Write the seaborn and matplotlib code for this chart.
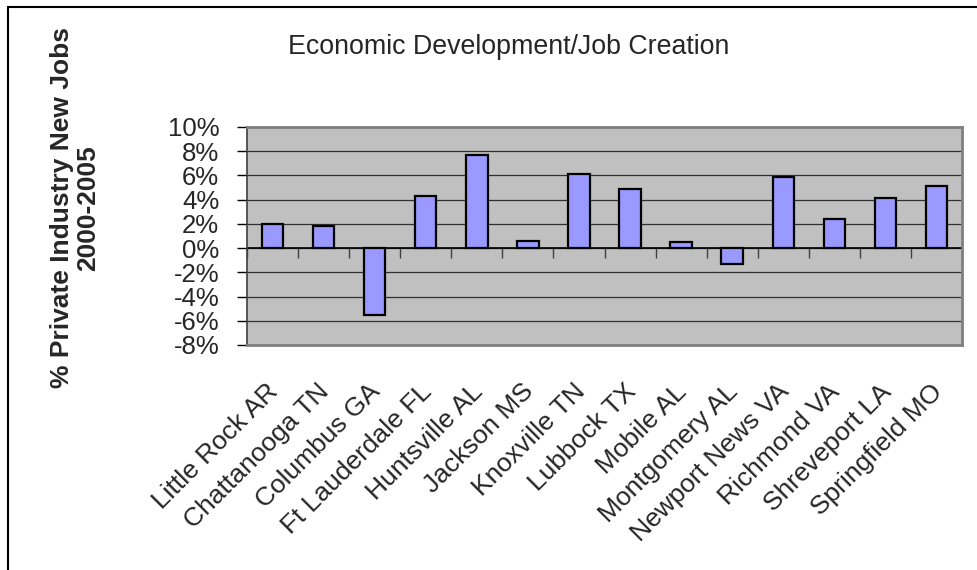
import matplotlib
matplotlib.use("Agg")
import matplotlib.pyplot as plt
import matplotlib.transforms as mtransforms
from matplotlib.patches import Rectangle
from matplotlib.ticker import FixedLocator
import seaborn as sns
import pandas as pd

cities = ["Little Rock AR", "Chattanooga TN", "Columbus GA", "Ft Lauderdale FL",
          "Huntsville AL", "Jackson MS", "Knoxville TN", "Lubbock TX", "Mobile AL",
          "Montgomery AL", "Newport News VA", "Richmond VA", "Shreveport LA",
          "Springfield MO"]
new_jobs_pct = [2.0, 1.8, -5.5, 4.3, 7.7, 0.6, 6.1, 4.9, 0.5, -1.3, 5.9, 2.4, 4.1, 5.1]
y_ticks = [-8, -6, -4, -2, 0, 2, 4, 6, 8, 10]
y_tick_labels = [f"{v}%" for v in y_ticks]
title = "Economic Development/Job Creation"
y_label = "% Private Industry New Jobs\n2000-2005"

sns.set_theme(style="white")
plt.rcParams["font.family"] = ["Liberation Sans", "DejaVu Sans"]

df = pd.DataFrame({"city": cities, "pct": new_jobs_pct})

W, H = 977, 570
fig = plt.figure(figsize=(W / 100, H / 100), dpi=100)
fig.patch.set_facecolor("white")
ax = fig.add_axes([247 / W, 1 - 345 / H, (962 - 247) / W, (345 - 127) / H])
ax.set_facecolor("#C0C0C0")

sns.barplot(data=df, x="city", y="pct", color="#9999FF", saturation=1,
            edgecolor="black", linewidth=1.6, width=0.42, ax=ax, zorder=3)

ax.set_xlim(-0.5, len(cities) - 0.5)
ax.set_ylim(-8, 10)
ax.set_yticks(y_ticks)
ax.set_yticklabels(y_tick_labels)
ax.yaxis.grid(True, color="#303030", linewidth=0.9, zorder=1)
ax.set_axisbelow(True)
ax.axhline(0, color="black", linewidth=1.2, zorder=2)

ax.tick_params(axis="y", direction="out", length=7, width=1, color="black",
               pad=13, left=True, labelsize=18.5)
ax.tick_params(axis="x", length=0, pad=10, labelsize=19)
ax.set_xticks(range(len(cities)))
ax.set_xticklabels(cities, rotation=45, ha="right", va="center",
                   rotation_mode="anchor")
offset = mtransforms.ScaledTranslation(2 / 100, -29 / 100, fig.dpi_scale_trans)
for lab in ax.get_xticklabels():
    lab.set_transform(lab.get_transform() + offset)

ax.set_xlabel("")
ax.set_ylabel("")

for side in ["top", "right", "bottom"]:
    ax.spines[side].set_color("#808080")
    ax.spines[side].set_linewidth(2)
ax.spines["left"].set_color("#404040")
ax.spines["left"].set_linewidth(1.2)

# category boundary ticks on the zero line
sec = ax.secondary_xaxis(8 / 18)
sec.xaxis.set_major_locator(FixedLocator([i - 0.5 for i in range(len(cities) + 1)]))
sec.set_xticklabels([])
sec.tick_params(axis="x", direction="out", length=7, width=1, color="#404040")
sec.spines["bottom"].set_visible(False)

fig.text(509 / W, 1 - 47 / H, title, ha="center", va="center", fontsize=19.3)
fig.text(75 / W, 1 - 208 / H, y_label, ha="center", va="center", fontsize=19,
         fontweight="bold", rotation=90, linespacing=1.12)

fig.add_artist(Rectangle((8 / W, -0.1), 1.2, 1.1 - 7 / H, transform=fig.transFigure,
                         fill=False, edgecolor="black", linewidth=1.5))

fig.savefig("out.png", dpi=100)
